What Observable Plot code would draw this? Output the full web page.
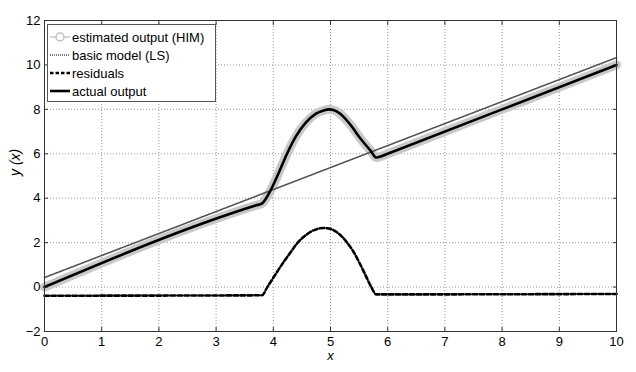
<!DOCTYPE html>
<html><head><meta charset="utf-8">
<script src="https://cdn.jsdelivr.net/npm/d3@7"></script>
<script src="https://cdn.jsdelivr.net/npm/@observablehq/plot@0.6"></script>
<style>body{margin:0;background:#fff}</style>
</head><body><div id="chart"></div>
<script>
const xTicks = [0,1,2,3,4,5,6,7,8,9,10];
const yTicks = [-2,0,2,4,6,8,10,12];

// estimated output (HIM)
const estX = [0, 3.7, 3.8, 3.95, 4.10, 4.24, 4.39, 4.56, 4.74, 4.88, 4.97, 5.05, 5.17, 5.35, 5.52, 5.70, 5.8, 5.9, 6.0, 10];
const estY = [0, 3.68, 3.76, 4.34, 5.17, 6.00, 6.76, 7.38, 7.80, 7.95, 8.00, 7.97, 7.80, 7.30, 6.70, 6.14, 5.83, 5.9, 6.0, 10];
// basic model (LS)
const lsX = [0, 10];
const lsY = [0.43, 10.33];
// residuals
const resX = [0, 3.8, 3.9, 4.0, 4.1, 4.2, 4.3, 4.42, 4.55, 4.7, 4.88, 5.0, 5.12, 5.2, 5.29, 5.4, 5.5, 5.6, 5.71, 5.8, 10];
const resY = [-0.39, -0.37, 0.02, 0.42, 0.82, 1.2, 1.56, 1.98, 2.3, 2.55, 2.66, 2.62, 2.45, 2.27, 2.0, 1.6, 1.12, 0.6, 0.02, -0.33, -0.31];
// actual output
const actX = [0, 3.7, 3.8, 3.95, 4.10, 4.24, 4.39, 4.56, 4.74, 4.88, 4.97, 5.05, 5.17, 5.35, 5.52, 5.70, 5.8, 5.9, 6.0, 10];
const actY = [0, 3.68, 3.76, 4.34, 5.17, 6.00, 6.76, 7.38, 7.80, 7.95, 8.00, 7.97, 7.80, 7.30, 6.70, 6.14, 5.83, 5.9, 6.0, 10];

const legendLabels = ["estimated output (HIM)", "basic model (LS)", "residuals", "actual output"];

const toRows = (xs, ys) => xs.map((x, i) => ({x, y: ys[i]}));
const est = toRows(estX, estY), ls = toRows(lsX, lsY), res = toRows(resX, resY), act = toRows(actX, actY);

const font = "'Liberation Sans', Arial, Helvetica, sans-serif";
const gridStyle = {stroke: "#9a9a9a", strokeOpacity: 1, strokeWidth: 1, strokeDasharray: "1,2"};

const plot = Plot.plot({
  width: 636, height: 372,
  marginLeft: 44, marginRight: 20, marginTop: 20, marginBottom: 41,
  style: {fontFamily: font, fontSize: "13px", color: "#000", background: "#fff"},
  x: {domain: [0, 10], label: null},
  y: {domain: [-2, 12], label: null},
  marks: [
    Plot.gridX(xTicks, gridStyle),
    Plot.gridY(yTicks, gridStyle),
    Plot.line(est, {x: "x", y: "y", stroke: "#c9c9c9", strokeWidth: 9, strokeLinecap: "round", strokeLinejoin: "round", curve: "monotone-x"}),
    Plot.line(ls, {x: "x", y: "y", stroke: "#555", strokeWidth: 1.6, strokeDasharray: "1,1"}),
    Plot.line(res, {x: "x", y: "y", stroke: "#000", strokeWidth: 2.6, strokeDasharray: "4.5,2.5", curve: "monotone-x"}),
    Plot.line(act, {x: "x", y: "y", stroke: "#000", strokeWidth: 2.6, curve: "monotone-x"}),
    Plot.frame({stroke: "#333", strokeWidth: 1}),
    Plot.axisX(xTicks, {anchor: "bottom", tickSize: -4, tickPadding: 9, stroke: "#333", fontSize: 13}),
    Plot.axisY(yTicks, {anchor: "left", tickSize: -4, tickPadding: 8, stroke: "#333", fontSize: 13}),
    Plot.axisX(xTicks, {anchor: "top", tickSize: -4, tickFormat: () => "", stroke: "#333"}),
    Plot.axisY(yTicks, {anchor: "right", tickSize: -4, tickFormat: () => "", stroke: "#333"}),
    Plot.text(["x"], {frameAnchor: "bottom", dy: 28, text: d => d, fontStyle: "italic", fontSize: 13}),
    Plot.text(["y (x)"], {frameAnchor: "left", dx: -29, rotate: -90, text: d => d, fontStyle: "italic", fontSize: 14})
  ]
});

// legend inside the axes box
const svg = d3.select(plot);
const lg = svg.append("g").attr("font-family", font).attr("font-size", 13).attr("text-anchor", "start");
lg.append("rect").attr("x", 47.5).attr("y", 24.5).attr("width", 168).attr("height", 77)
  .attr("fill", "#fff").attr("stroke", "#555").attr("stroke-width", 1);
const rowY = [37, 55, 73, 91];
const styles = [
  {stroke: "#c9c9c9", w: 1.5, dash: null},
  {stroke: "#555", w: 1.5, dash: "1,1"},
  {stroke: "#000", w: 2.6, dash: "3.5,2"},
  {stroke: "#000", w: 2.6, dash: null}
];
legendLabels.forEach((t, i) => {
  const s = styles[i];
  const ln = lg.append("line").attr("x1", 50).attr("x2", 70).attr("y1", rowY[i]).attr("y2", rowY[i])
    .attr("stroke", s.stroke).attr("stroke-width", s.w);
  if (s.dash) ln.attr("stroke-dasharray", s.dash);
  if (i === 0) lg.append("circle").attr("cx", 60).attr("cy", rowY[i]).attr("r", 4)
    .attr("fill", "#fff").attr("stroke", "#c0c0c0").attr("stroke-width", 1.5);
  lg.append("text").attr("x", 72).attr("y", rowY[i]).attr("dy", "0.35em")
    .attr("text-anchor", "start").attr("fill", "#000").text(t);
});

document.getElementById("chart").appendChild(plot);
</script>
</body></html>
